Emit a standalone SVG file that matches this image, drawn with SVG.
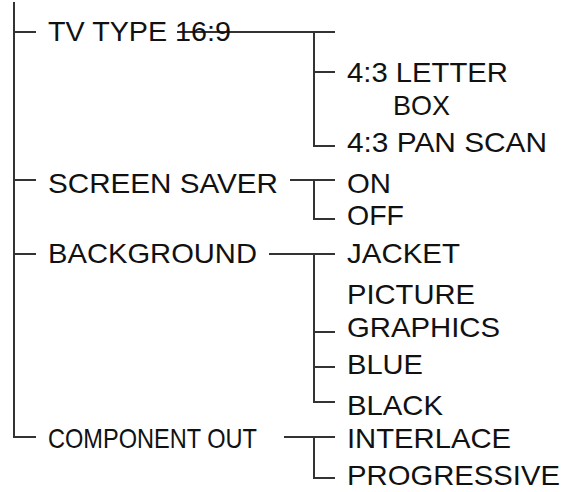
<svg xmlns="http://www.w3.org/2000/svg" width="567" height="492" viewBox="0 0 567 492">
<style>
.c{stroke:#333;stroke-width:2;fill:none;stroke-linecap:butt}
text{font-family:"Liberation Sans",Arial,sans-serif;font-size:28px;fill:#111}
</style>
<rect width="567" height="492" fill="#fff"/>
<g id="connectors">
<path class="c" d="M14 2V437H36M14 32H36M14 180H36M14 254H36"/>
<path class="c" d="M177 32H335M314 32V146H335M314 72H335"/>
<path class="c" d="M290 180H335M314 180V219H335"/>
<path class="c" d="M269 254H335M314 254V402H335M314 332H335M314 367H335"/>
<path class="c" d="M284 437H335M314 437V478H335"/>
</g>
<g id="tvtype"><text x="48" y="41" textLength="183" lengthAdjust="spacingAndGlyphs">TV TYPE 16:9</text></g>
<g id="letterbox"><text x="347" y="82" textLength="161" lengthAdjust="spacingAndGlyphs">4:3 LETTER</text><text x="393" y="115" textLength="57" lengthAdjust="spacingAndGlyphs">BOX</text></g>
<g id="panscan"><text x="347" y="152" textLength="200" lengthAdjust="spacingAndGlyphs">4:3 PAN SCAN</text></g>
<g id="screensaver"><text x="48" y="193" textLength="230" lengthAdjust="spacingAndGlyphs">SCREEN SAVER</text></g>
<g id="on"><text x="347" y="193" textLength="44" lengthAdjust="spacingAndGlyphs">ON</text></g>
<g id="off"><text x="347" y="225" textLength="57" lengthAdjust="spacingAndGlyphs">OFF</text></g>
<g id="background"><text x="48" y="263" textLength="209" lengthAdjust="spacingAndGlyphs">BACKGROUND</text></g>
<g id="jacket"><text x="347" y="263" textLength="113" lengthAdjust="spacingAndGlyphs">JACKET</text></g>
<g id="picture"><text x="347" y="304" textLength="128" lengthAdjust="spacingAndGlyphs">PICTURE</text></g>
<g id="graphics"><text x="347" y="337" textLength="153" lengthAdjust="spacingAndGlyphs">GRAPHICS</text></g>
<g id="blue"><text x="347" y="374" textLength="76" lengthAdjust="spacingAndGlyphs">BLUE</text></g>
<g id="black"><text x="347" y="415" textLength="96" lengthAdjust="spacingAndGlyphs">BLACK</text></g>
<g id="component"><text x="48" y="448" textLength="209" lengthAdjust="spacingAndGlyphs">COMPONENT OUT</text></g>
<g id="interlace"><text x="347" y="448" textLength="164" lengthAdjust="spacingAndGlyphs">INTERLACE</text></g>
<g id="progressive"><text x="347" y="485" textLength="213" lengthAdjust="spacingAndGlyphs">PROGRESSIVE</text></g>
</svg>
